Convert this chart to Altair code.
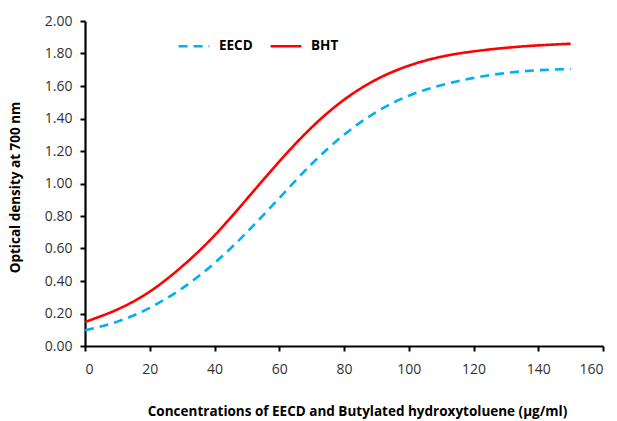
import altair as alt
import pandas as pd

conc = [0, 10, 20, 30, 40, 50, 60, 70, 80, 90, 100, 110, 120, 130, 140, 150]
eecd = [0.097, 0.15, 0.235, 0.355, 0.51, 0.70, 0.91, 1.12, 1.30, 1.44, 1.54, 1.605, 1.65, 1.68, 1.697, 1.705]
bht = [0.148, 0.225, 0.335, 0.49, 0.68, 0.905, 1.135, 1.345, 1.515, 1.64, 1.725, 1.78, 1.813, 1.835, 1.85, 1.86]
series = ["EECD", "BHT"]
colors = ["#00B0F0", "#FF0000"]

rows = []
for c, e, b in zip(conc, eecd, bht):
    rows.append({"conc": c, "od": e, "series": "EECD"})
    rows.append({"conc": c, "od": b, "series": "BHT"})
df = pd.DataFrame(rows)

FONT = "Open Sans"

chart = alt.Chart(df).mark_line(strokeWidth=2.6, interpolate="natural").encode(
    x=alt.X("conc:Q",
            scale=alt.Scale(domain=[0, 160], nice=False),
            axis=alt.Axis(values=list(range(0, 161, 20)), format="d",
                          title="Concentrations of EECD and Butylated hydroxytoluene (\u03bcg/ml)",
                          titleX=272, titleY=65, titleBaseline="middle")),
    y=alt.Y("od:Q",
            scale=alt.Scale(domain=[0, 2], nice=False),
            axis=alt.Axis(values=[i / 5 for i in range(0, 11)], format=".2f",
                          title="Optical density at 700 nm",
                          titleX=-70, titleY=166, titleBaseline="middle")),
    color=alt.Color("series:N", scale=alt.Scale(domain=series, range=colors),
                    sort=series,
                    legend=alt.Legend(title=None, orient="none", direction="horizontal",
                                      legendX=92, legendY=8, symbolType="stroke",
                                      symbolSize=950, symbolStrokeWidth=2.6,
                                      labelFont=FONT, labelFontWeight="bold",
                                      labelFontSize=13.5, labelColor="#000000",
                                      columnPadding=12, labelOffset=8)),
    strokeDash=alt.StrokeDash("series:N",
                              scale=alt.Scale(domain=series, range=[[9, 6], [1, 0]]),
                              sort=series, legend=None),
).properties(
    width=518, height=325,
    autosize=alt.AutoSizeParams(type="none"),
    padding={"left": 85, "top": 21, "right": 14, "bottom": 75},
).configure_view(stroke=None).configure_axis(
    grid=False, domainColor="#000000", domainWidth=2.2, tickColor="#000000",
    tickWidth=2, tickSize=5, labelFont=FONT, labelFontSize=14, labelColor="#333333",
    titleFont=FONT, titleFontSize=13.5, titleFontWeight="bold",
    titleColor="#000000",
).configure_axisX(labelPadding=11).configure_axisY(labelPadding=8)

chart.save("out.html", embed_options={"renderer": "svg", "actions": False})
